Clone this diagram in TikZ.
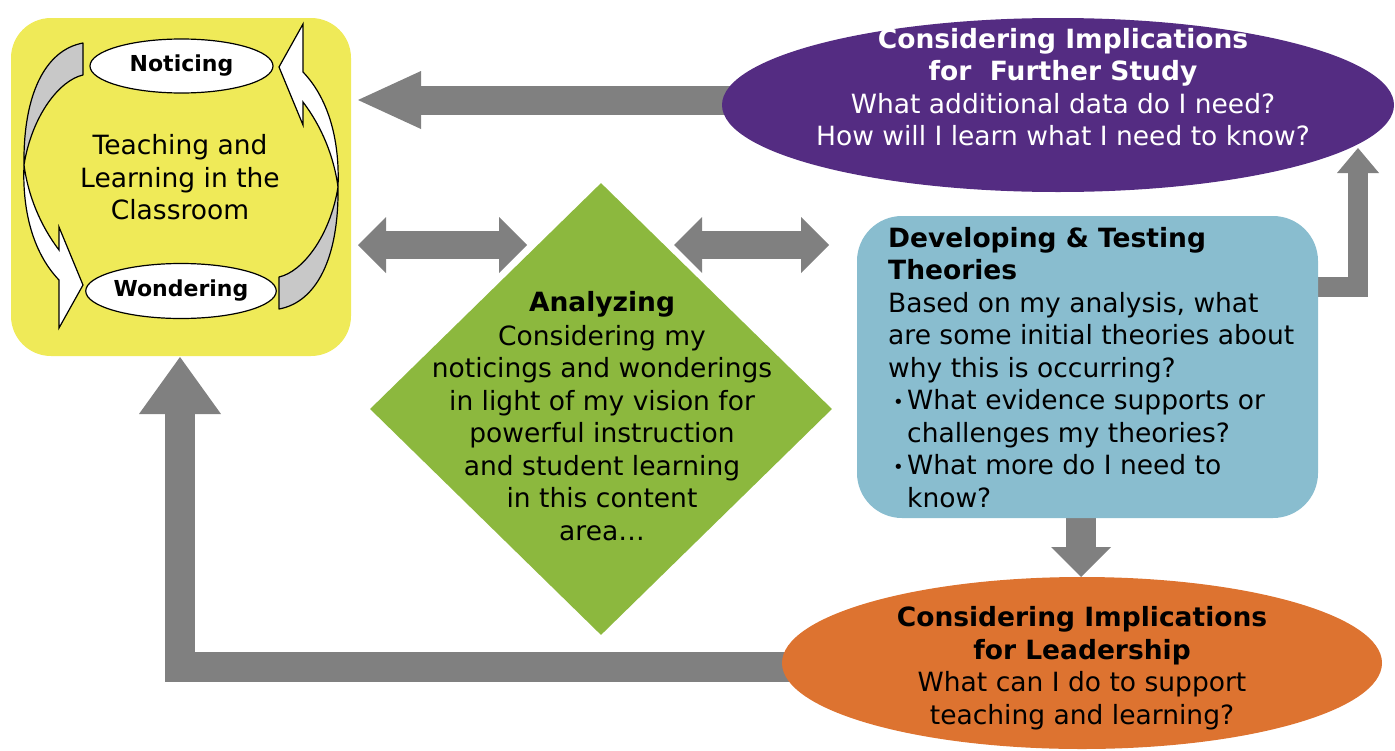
\documentclass[tikz,border=0pt]{standalone}
\usepackage{fontspec}
\setmainfont{DejaVu Sans}
\usetikzlibrary{arrows.meta,shapes.geometric,calc}
\definecolor{cYellow}{RGB}{239,234,88}
\definecolor{cGreen}{RGB}{140,184,62}
\definecolor{cBlue}{RGB}{137,189,207}
\definecolor{cPurple}{RGB}{84,44,130}
\definecolor{cOrange}{RGB}{221,115,48}
\definecolor{cGray}{RGB}{128,128,128}
\definecolor{cBand}{RGB}{200,200,200}
\newcommand{\smallbullet}{\hspace*{5pt}\makebox[14pt][l]{\raisebox{1pt}{\fontsize{18}{18}\selectfont •}}}
\begin{document}
\begin{tikzpicture}[x=1pt,y=-1pt,
  body/.style={font=\fontsize{26.5}{32.5}\selectfont, inner sep=0pt},
  smallbold/.style={font=\fontsize{22}{26}\selectfont\bfseries},
  flow/.style={draw=cGray, line join=miter, line cap=butt},
  bandback/.style={fill=cBand, draw=black, line width=1.2pt, line join=round},
  bandfront/.style={fill=white, draw=black, line width=1.2pt, line join=miter},
  oval/.style={ellipse, fill=white, draw=black, line width=1.2pt, inner sep=0pt}
]
\useasboundingbox (0,0) rectangle (1395,750);

% ---------- connector end points ----------
\coordinate (tT) at (358,100);
\coordinate (dl1) at (358,245);
\coordinate (dl2) at (527,245);
\coordinate (dr1) at (674,245);
\coordinate (dr2) at (829,245);
\coordinate (cE) at (1358,287);
\coordinate (tE) at (1358,148);
\coordinate (tD) at (1081,577);
\coordinate (cB) at (180,667);
\coordinate (tB) at (180,357);

% shapes used as anchors
\node[fill=cYellow, rounded corners=40pt, minimum width=340pt, minimum height=338pt, inner sep=0pt] (yellow) at (181,187) {};
\node[ellipse, minimum width=672pt, minimum height=174pt, inner sep=0pt] (purple) at (1058,105) {};
\node[ellipse, minimum width=600pt, minimum height=172pt, inner sep=0pt] (orange) at (1082,663) {};
\node[minimum width=461pt, minimum height=302pt, inner sep=0pt] (blue) at (1087.5,367) {};

\draw[flow, line width=29pt, -{Triangle[length=63pt 0 0, width=58pt 0 0, line width=0pt]}]
  ($(purple.west|-tT)+(25,0)$) -- (tT);
\draw[flow, line width=28pt, {Triangle[length=28pt 0 0, width=56pt 0 0, line width=0pt]}-{Triangle[length=28pt 0 0, width=56pt 0 0, line width=0pt]}]
  (dl1) -- (dl2);
\draw[flow, line width=28pt, {Triangle[length=28pt 0 0, width=56pt 0 0, line width=0pt]}-{Triangle[length=28pt 0 0, width=56pt 0 0, line width=0pt]}]
  (dr1) -- (dr2);
\draw[flow, line width=20pt, -{Triangle[length=25pt 0 0, width=42pt 0 0, line width=0pt]}]
  ($(blue.east|-cE)+(-20,0)$) -- (cE) -- (tE);
\draw[flow, line width=30pt, -{Triangle[length=30pt 0 0, width=60pt 0 0, line width=0pt]}]
  ($(tD|-blue.south)+(0,-15)$) -- (tD);
\draw[flow, line width=30pt, -{Triangle[length=57pt 0 0, width=82pt 0 0, line width=0pt]}]
  ($(orange.west|-cB)+(25,0)$) -- (cB) -- (tB);

% ---------- shapes ----------
\node[fill=cPurple, ellipse, minimum width=672pt, minimum height=174pt, inner sep=0pt] (purpleF) at (purple) {};
\node[fill=cOrange, ellipse, minimum width=600pt, minimum height=172pt, inner sep=0pt] (orangeF) at (orange) {};
\node[fill=cBlue, rounded corners=45pt, minimum width=461pt, minimum height=302pt, inner sep=0pt] (blueF) at (blue) {};
\node[fill=cGreen, diamond, minimum width=462pt, minimum height=452pt, inner sep=0pt] (green) at (601,409) {};

% ---------- cycle inside the yellow box ----------
\draw[bandback] (83,43) -- (83,75) .. controls (60,80) and (32,115) .. (24,165)
  .. controls (23,95) and (45,50) .. (83,43) -- cycle;
\draw[bandfront] (24,165) .. controls (22,215) and (35,255) .. (59,280) -- (59,328) -- (83,285)
  -- (59,227) -- (59,250) .. controls (40,225) and (28,195) .. (24,165) -- cycle;
\begin{scope}[rotate around={180:(181,176)}]
\draw[bandback] (83,43) -- (83,75) .. controls (60,80) and (32,115) .. (24,165)
  .. controls (23,95) and (45,50) .. (83,43) -- cycle;
\draw[bandfront] (24,165) .. controls (22,215) and (35,255) .. (59,280) -- (59,328) -- (83,285)
  -- (59,227) -- (59,250) .. controls (40,225) and (28,195) .. (24,165) -- cycle;
\end{scope}
\node[oval, minimum width=183pt, minimum height=54pt, smallbold] (noticing) at (181.5,66) {Noticing};
\node[oval, minimum width=182pt, minimum height=55pt, smallbold] (wondering) at (181,291) {Wondering};

% ---------- texts ----------
\node[body, align=center] (tyellow) at (180,177.5) {Teaching and\\Learning in the\\Classroom};
\node[body, align=center, text=white] (tpurple) at (1063,87)
  {\textbf{Considering Implications}\\\textbf{for~ Further Study}\\What additional data do I need?\\How will I learn what I need to know?};
\node[body, align=center] (torange) at (1082,668)
  {\textbf{Considering Implications}\\\textbf{for Leadership}\\What can I do to support\\teaching and learning?};
\node[body, align=center] (tgreen) at (602,416)
  {\textbf{Analyzing}\\[1.5pt]Considering my\\noticings and wonderings\\in light of my vision for\\powerful instruction\\and student learning\\in this content\\area…};
\node[body, align=left, anchor=north west] (tblue) at (888,227)
  {\textbf{Developing \& Testing}\\\textbf{Theories}\\Based on my analysis, what\\are some initial theories about\\why this is occurring?\\
   \smallbullet What evidence supports or\\\hspace*{19pt}challenges my theories?\\
   \smallbullet What more do I need to\\\hspace*{19pt}know?};
\end{tikzpicture}
\end{document}
